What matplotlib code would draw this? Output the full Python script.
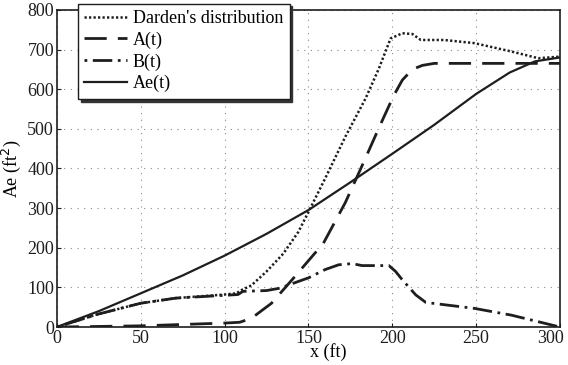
import numpy as np
import matplotlib.pyplot as plt
from matplotlib import transforms

# ── Data ──────────────────────────────────────────────────────────────────────

darden_x = [0, 25, 50, 71, 100, 107, 110, 116, 125, 135, 144, 150, 160, 172,
            184, 192, 199, 206, 212, 217, 231, 249, 271, 287, 300]
darden_y = [0, 33, 60, 73, 82, 85, 93, 105, 140, 185, 240, 290, 375, 480,
            576, 652, 728, 741, 739, 724, 724, 716, 695, 678, 682]

a_x = [0, 50, 100, 109, 116, 128, 140, 154, 158, 172, 182, 190, 195, 201,
       206, 212, 218, 225, 300]
a_y = [0, 3, 10, 12, 22, 60, 118, 187, 204, 314, 407, 483, 530, 585,
       623, 650, 660, 665, 665]

b_x = [0, 25, 50, 71, 100, 108, 111, 125, 133, 144, 150, 160, 168, 176, 182,
       198, 202, 206, 214, 220, 249, 271, 300]
b_y = [0, 33, 60, 73, 80, 82, 90, 92, 98, 115, 124, 145, 157, 160, 155,
       155, 140, 119, 81, 62, 47, 30, 0]

ae_x = [0, 25, 50, 75, 100, 125, 150, 175, 200, 225, 250, 270, 285, 300]
ae_y = [0, 40, 85, 130, 180, 235, 295, 365, 437, 510, 588, 642, 670, 680]

x_ticks = [0, 50, 100, 150, 200, 250, 300]
y_ticks = [0, 100, 200, 300, 400, 500, 600, 700, 800]

# ── Plot ──────────────────────────────────────────────────────────────────────

plt.rcParams['font.family'] = ['Liberation Serif', 'DejaVu Serif']

ink = '#1e1e1e'
fig = plt.figure(figsize=(5.68, 3.65), dpi=100)
ax = fig.add_axes([0.100, 0.104, 0.886, 0.869])

ax.plot(darden_x, darden_y, color=ink, lw=1.8, linestyle=(0, (0.9, 0.9)),
        label="Darden's distribution")
ax.plot(a_x, a_y, color=ink, lw=2.0, linestyle=(0, (8, 4)), label='A(t)')
ax.plot(b_x, b_y, color=ink, lw=2.0, linestyle=(0, (1, 2, 7, 2)), label='B(t)')
ax.plot(ae_x, ae_y, color=ink, lw=1.6, linestyle='-', label='Ae(t)')

ax.set_xlim(0, 300)
ax.set_ylim(0, 800)
ax.set_xticks(x_ticks)
ax.set_yticks(y_ticks)
ax.tick_params(labelsize=13, length=3, direction='in', colors=ink, pad=2)
ax.grid(True, linestyle=(0, (1, 5)), color='#888888', linewidth=0.8)
for s in ax.spines.values():
    s.set_color(ink)
    s.set_linewidth(1.2)

# keep the last x tick label inside the figure
last = ax.get_xticklabels()[-1]
last.set_transform(last.get_transform() +
                   transforms.ScaledTranslation(-7 / 72, 0, fig.dpi_scale_trans))

ax.set_xlabel('x (ft)', fontsize=13)
ax.xaxis.set_label_coords(0.54, -0.05)
ax.set_ylabel('Ae (ft$^2$)', fontsize=13)
ax.yaxis.set_label_coords(-0.068, 0.5)

leg = ax.legend(loc='upper left', bbox_to_anchor=(0.137, 0.99),
                bbox_transform=fig.transFigure, fontsize=13, frameon=True,
                fancybox=False, shadow={'color': '#333333', 'alpha': 1},
                handlelength=2.4, borderaxespad=0, labelspacing=0.25,
                handletextpad=0.3, borderpad=0.35)
leg.get_frame().set_edgecolor(ink)
leg.get_frame().set_linewidth(1.0)
leg.get_frame().set_alpha(1)

fig.savefig('out.png', dpi=100)
